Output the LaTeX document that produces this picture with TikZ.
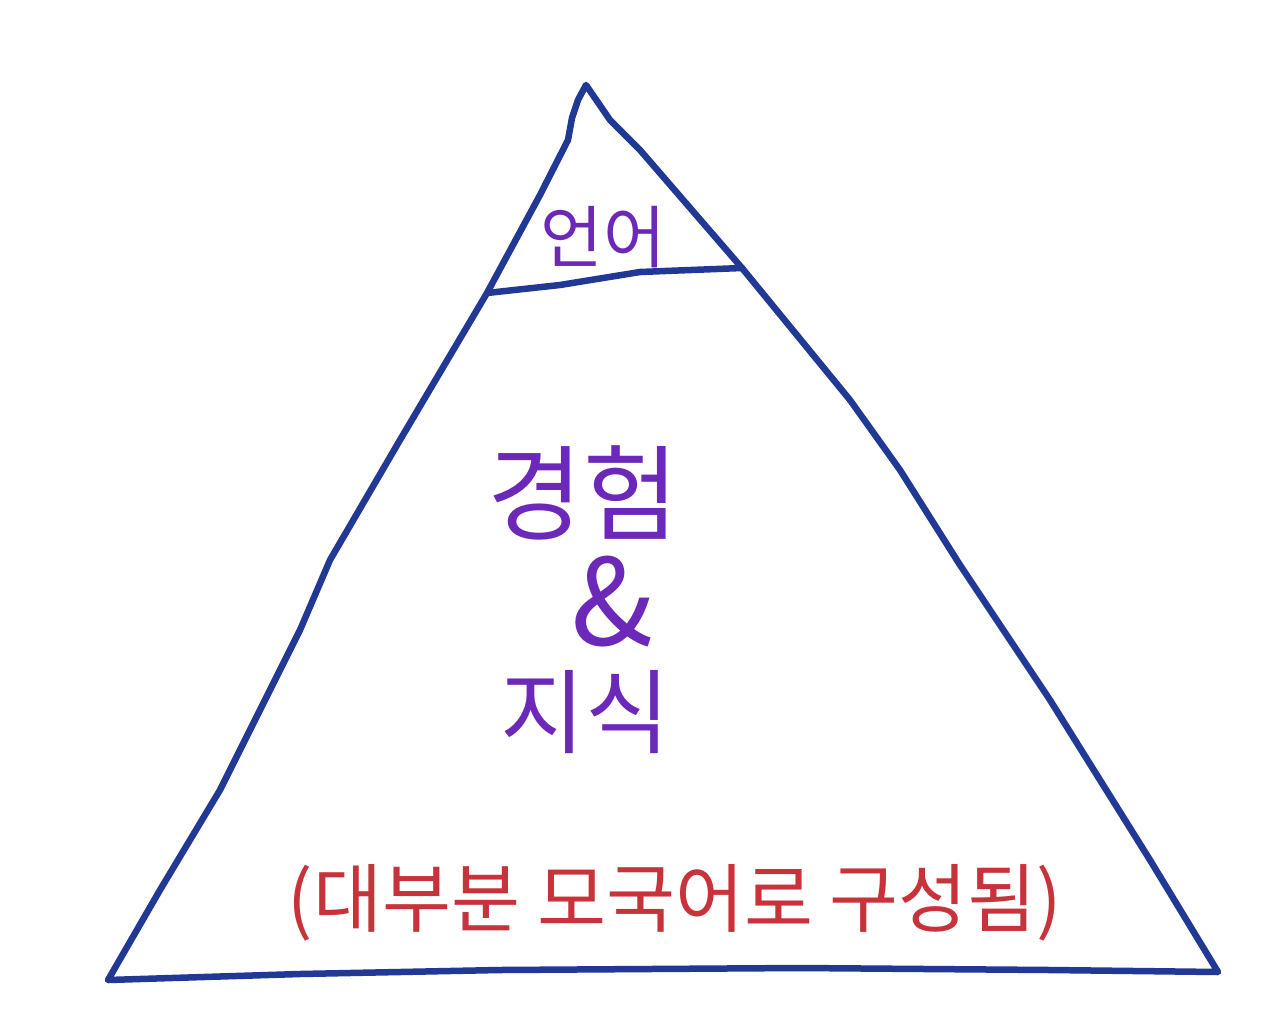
\documentclass[tikz,border=0pt]{standalone}
\usepackage{fontspec}
\newfontfamily\krfont{Noto Sans CJK KR}
\definecolor{penblue}{RGB}{33,56,148}
\definecolor{penpurple}{RGB}{108,40,184}
\definecolor{penred}{RGB}{200,50,58}
\tikzset{
  pen/.style={draw=penblue, line width=6.5pt, line cap=round, line join=round},
  purpletext/.style={text=penpurple, font=\krfont, inner sep=0pt},
  redtext/.style={text=penred, font=\krfont, inner sep=0pt}
}
\begin{document}
\begin{tikzpicture}[x=1pt,y=-1pt]
\useasboundingbox (0,0) rectangle (1280,1034);
% triangle outline
\draw[pen] (586,85) -- (578,100) -- (572,118) -- (568,140) -- (540,195) -- (487,293)
  -- (400,440) -- (330,560) -- (300,630) -- (260,710) -- (220,790) -- (160,890) -- (108,980)
  -- (300,974) -- (500,970) -- (800,968) -- (1050,970) -- (1218,972)
  -- (1150,860) -- (1050,700) -- (960,565) -- (900,470) -- (850,400) -- (742,268)
  -- (640,150) -- (610,120) -- cycle;
% divider
\draw[pen] (487,293) -- (560,285) -- (640,272) -- (742,268);
% labels
\node[purpletext, font=\krfont\fontsize{68}{70}\selectfont] (lang) at (603,237) {언어};
\node[purpletext, font=\krfont\fontsize{104}{106}\selectfont] (exp) at (583,493) {경험};
\node[purpletext, font=\krfont\fontsize{120}{122}\selectfont] (amp) at (612,602) {\&};
\node[purpletext, font=\krfont\fontsize{92}{94}\selectfont] (know) at (585,712) {지식};
\node[redtext, font=\krfont\fontsize{75}{77}\selectfont] (note) at (675,903) {(대부분 모국어로 구성됨)};
\end{tikzpicture}
\end{document}
